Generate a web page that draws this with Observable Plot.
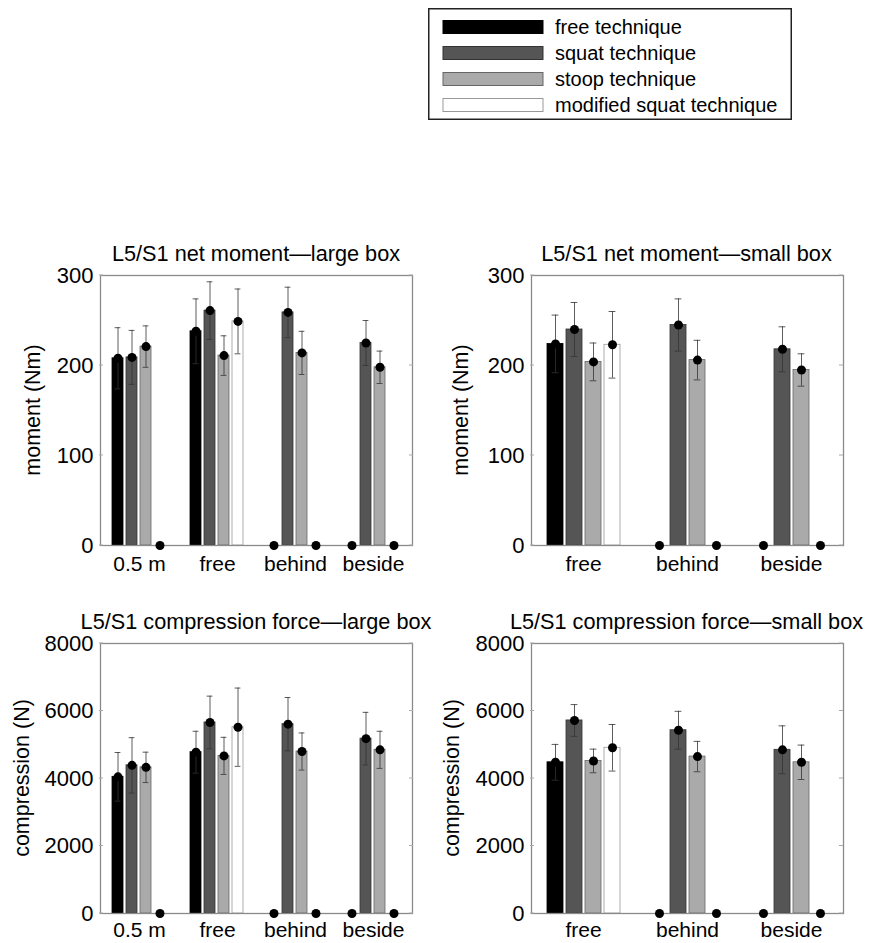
<!DOCTYPE html>
<html>
<head>
<meta charset="utf-8">
<script src="https://cdn.jsdelivr.net/npm/d3@7"></script>
<script src="https://cdn.jsdelivr.net/npm/@observablehq/plot@0.6"></script>
<style>
  html, body { margin: 0; padding: 0; background: #fff; }
  #root { position: relative; width: 870px; height: 943px; overflow: hidden; background: #fff; }
  #root svg { position: absolute; overflow: visible; }
</style>
</head>
<body>
<div id="root"></div>
<script>
// ---------- data ----------
const techniques = ["free technique", "squat technique", "stoop technique", "modified squat technique"];
const techFills = ["#000000", "#555555", "#aaaaaa", "#ffffff"];
const techStrokes = ["#000000", "#333333", "#666666", "#999999"];

const largeCats = ["0.5 m", "free", "behind", "beside"];
const smallCats = ["free", "behind", "beside"];

const momentTicks = [0, 100, 200, 300];
const compTicks = [0, 2000, 4000, 6000, 8000];

// rows = categories, columns = techniques (free, squat, stoop, modified squat)
const momentLargeMean = [
  [208, 209, 221, 0],
  [238, 261, 211, 249],
  [0, 259, 214, 0],
  [0, 225, 198, 0]
];
const momentLargeSD = [
  [34, 30, 23, 0],
  [36, 32, 22, 36],
  [0, 28, 24, 0],
  [0, 25, 18, 0]
];
const momentSmallMean = [
  [224, 240, 204, 223],
  [0, 245, 206, 0],
  [0, 218, 195, 0]
];
const momentSmallSD = [
  [32, 30, 21, 37],
  [0, 29, 22, 0],
  [0, 25, 18, 0]
];
const compLargeMean = [
  [4050, 4390, 4330, 0],
  [4780, 5660, 4670, 5520],
  [0, 5610, 4800, 0],
  [0, 5180, 4850, 0]
];
const compLargeSD = [
  [720, 820, 450, 0],
  [620, 780, 550, 1160],
  [0, 790, 550, 0],
  [0, 780, 550, 0]
];
const compSmallMean = [
  [4480, 5720, 4520, 4910],
  [0, 5430, 4650, 0],
  [0, 4850, 4480, 0]
];
const compSmallSD = [
  [530, 470, 350, 690],
  [0, 560, 450, 0],
  [0, 710, 510, 0]
];

const FONT = "'Liberation Sans', Arial, Helvetica, sans-serif";
const root = document.getElementById("root");

function makePanel(p) {
  const rows = [];
  p.cats.forEach((c, i) => techniques.forEach((t, j) => rows.push({
    cat: c, tech: t, mean: p.means[i][j], sd: p.sds[i][j], fill: techFills[j], stroke: techStrokes[j]
  })));
  const bars = rows.filter(d => d.mean > 0);
  const errs = rows.filter(d => d.sd > 0);
  const fw = p.width - p.mLeft - p.mRight;
  const fh = p.height - p.mTop - p.mBottom;
  const chart = Plot.plot({
    width: p.width, height: p.height,
    marginLeft: p.mLeft, marginRight: p.mRight, marginTop: p.mTop, marginBottom: p.mBottom,
    style: {fontFamily: FONT, fontSize: "21px", background: "transparent", color: "#000", overflow: "visible"},
    fx: {domain: p.cats, padding: 0, label: null},
    x: {domain: techniques, axis: null, paddingInner: 0.18, paddingOuter: 0.72},
    y: {domain: [0, p.yMax], axis: null},
    color: {type: "identity"},
    marks: [
      Plot.barY(bars, {fx: "cat", x: "tech", y: "mean", fill: "fill", stroke: "stroke", strokeWidth: 0.8}),
      Plot.ruleX(errs, {fx: "cat", x: "tech", y1: d => d.mean - d.sd, y2: d => d.mean + d.sd, stroke: "#333", strokeWidth: 0.8}),
      Plot.tickY(errs, {fx: "cat", x: "tech", y: d => d.mean + d.sd, stroke: "#333", strokeWidth: 0.8, inset: p.capInset}),
      Plot.tickY(errs, {fx: "cat", x: "tech", y: d => d.mean - d.sd, stroke: "#333", strokeWidth: 0.8, inset: p.capInset}),
      Plot.frame({facet: "super", stroke: "#8a8a8a", strokeWidth: 1.3}),
      Plot.dot(rows, {fx: "cat", x: "tech", y: "mean", r: 4.5, fill: "#000"}),
      Plot.axisY({ticks: p.yTicks, tickSize: 0, tickPadding: 7, tickFormat: d => String(d), label: null, fontSize: 22}),
      Plot.axisFx({anchor: "bottom", tickSize: 0, tickPadding: p.xPad, label: null, fontSize: 21})
    ]
  });
  chart.style.left = p.left + "px";
  chart.style.top = p.top + "px";
  const svg = d3.select(chart);
  const yScale = chart.scale("y");
  // small inward tick marks on the left and right frame edges
  const tg = svg.append("g").attr("stroke", "#aaa").attr("stroke-width", 1);
  p.yTicks.forEach(v => {
    const yy = yScale.apply(v);
    tg.append("line").attr("x1", p.mLeft).attr("x2", p.mLeft + 4).attr("y1", yy).attr("y2", yy);
    tg.append("line").attr("x1", p.mLeft + fw - 4).attr("x2", p.mLeft + fw).attr("y1", yy).attr("y2", yy);
  });
  svg.append("text")
    .attr("x", p.mLeft + fw / 2).attr("y", p.mTop - 22)
    .attr("text-anchor", "middle").attr("dominant-baseline", "central")
    .attr("font-size", 21.7).attr("font-family", FONT).attr("fill", "#000")
    .text(p.title);
  svg.append("text")
    .attr("transform", `translate(${p.mLeft + p.labelDx},${p.mTop + fh / 2}) rotate(-90)`)
    .attr("text-anchor", "middle").attr("dominant-baseline", "central")
    .attr("font-size", 21.5).attr("font-family", FONT).attr("fill", "#000")
    .text(p.yLabel);
  root.appendChild(chart);
}

makePanel({cats: largeCats, means: momentLargeMean, sds: momentLargeSD, yMax: 300, yTicks: momentTicks,
  title: "L5/S1 net moment\u2014large box", yLabel: "moment (Nm)",
  left: 0, top: 230, width: 435, height: 350, mLeft: 99, mRight: 22, mTop: 45, mBottom: 35, xPad: 11, labelDx: -66, capInset: 2.6});
makePanel({cats: smallCats, means: momentSmallMean, sds: momentSmallSD, yMax: 300, yTicks: momentTicks,
  title: "L5/S1 net moment\u2014small box", yLabel: "moment (Nm)",
  left: 440, top: 230, width: 430, height: 350, mLeft: 90, mRight: 27, mTop: 45, mBottom: 35, xPad: 11, labelDx: -69, capInset: 4.6});
makePanel({cats: largeCats, means: compLargeMean, sds: compLargeSD, yMax: 8000, yTicks: compTicks,
  title: "L5/S1 compression force\u2014large box", yLabel: "compression (N)",
  left: 0, top: 600, width: 435, height: 343, mLeft: 99, mRight: 22, mTop: 43, mBottom: 30, xPad: 9, labelDx: -77, capInset: 2.6});
makePanel({cats: smallCats, means: compSmallMean, sds: compSmallSD, yMax: 8000, yTicks: compTicks,
  title: "L5/S1 compression force\u2014small box", yLabel: "compression (N)",
  left: 440, top: 600, width: 430, height: 343, mLeft: 90, mRight: 27, mTop: 43, mBottom: 30, xPad: 9, labelDx: -78, capInset: 4.6});

// ---------- legend ----------
const leg = d3.select(root).append("svg")
  .attr("width", 364).attr("height", 112)
  .style("left", "428px").style("top", "8px");
leg.append("rect").attr("x", 0.75).attr("y", 0.75).attr("width", 362.5).attr("height", 110.5)
  .attr("fill", "#fff").attr("stroke", "#222").attr("stroke-width", 1.5);
const rowY = [19, 45, 71, 97];
techniques.forEach((t, i) => {
  leg.append("rect").attr("x", 15).attr("y", rowY[i] - 6.5).attr("width", 100).attr("height", 13)
    .attr("fill", techFills[i]).attr("stroke", techStrokes[i]).attr("stroke-width", 1);
  leg.append("text").attr("x", 127).attr("y", rowY[i])
    .attr("dominant-baseline", "central").attr("font-size", 20).attr("font-family", FONT).attr("fill", "#000")
    .text(t);
});
</script>
</body>
</html>
